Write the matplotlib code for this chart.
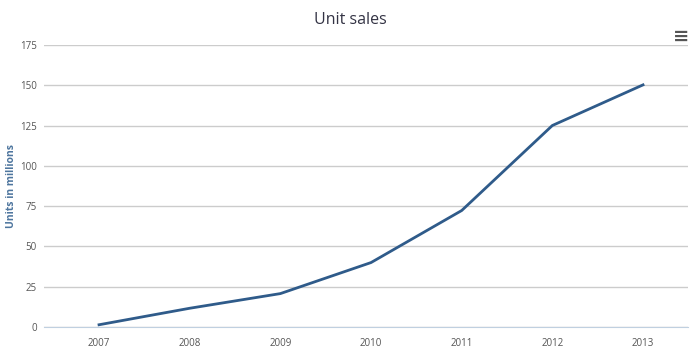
import matplotlib
matplotlib.use("Agg")
import matplotlib.pyplot as plt

plt.rcParams["font.family"] = ["Open Sans", "DejaVu Sans"]

# Data
years = ["2007", "2008", "2009", "2010", "2011", "2012", "2013"]
units = [1.39, 11.63, 20.73, 39.99, 72.29, 125.05, 150.26]
y_ticks = [0, 25, 50, 75, 100, 125, 150, 175]

fig = plt.figure(figsize=(7, 3.51), dpi=100)
ax = fig.add_axes([44 / 700, 24 / 351, 644 / 700, 282 / 351])

x = list(range(len(years)))
ax.plot(x, units, color="#2f5b8a", linewidth=2, solid_joinstyle="round")

ax.set_xlim(-0.607, len(years) - 1 + 0.496)
ax.set_ylim(0, 175)
ax.set_xticks(x)
ax.set_xticklabels(years)
ax.set_yticks(y_ticks)
ax.grid(axis="y", color="#cccccc", linewidth=1)
ax.set_axisbelow(True)

for s in ["top", "right", "left"]:
    ax.spines[s].set_visible(False)
ax.spines["bottom"].set_color("#c0d0e0")

ax.tick_params(axis="both", length=0, labelsize=7, colors="#555555")
ax.tick_params(axis="x", pad=8)
ax.tick_params(axis="y", pad=5)

# y axis title placed by hand so it stays inside the figure
fig.text(12 / 700, 1 - 186 / 351, "Units in millions", rotation=90,
         ha="center", va="center", color="#4d759e", fontsize=7.5,
         fontweight="bold")

fig.text(0.5, 1 - 20 / 351, "Unit sales", ha="center", va="center",
         fontsize=11.5, color="#333344")
fig.text(681 / 700, 1 - 37 / 351, "\u2261", ha="center", va="center",
         fontsize=14, color="#555555", fontweight="bold")

fig.savefig("out.png", dpi=100)
